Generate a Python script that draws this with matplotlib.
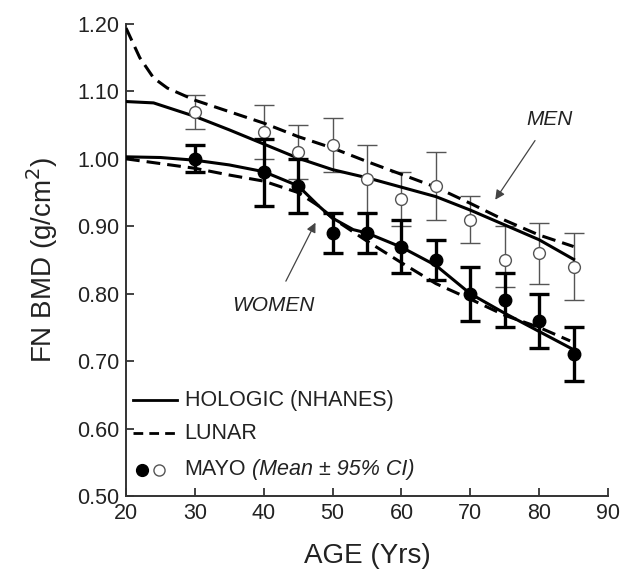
import matplotlib
matplotlib.use('Agg')
import matplotlib.pyplot as plt
import numpy as np

plt.rcParams['font.family'] = ['Liberation Sans', 'DejaVu Sans']

# Mayo data (mean and 95% CI)
ages = [30, 40, 45, 50, 55, 60, 65, 70, 75, 80, 85]
women_mean = [1.00, 0.98, 0.96, 0.89, 0.89, 0.87, 0.85, 0.80, 0.79, 0.76, 0.71]
women_lo = [0.98, 0.93, 0.92, 0.86, 0.86, 0.83, 0.82, 0.76, 0.75, 0.72, 0.67]
women_hi = [1.02, 1.03, 1.00, 0.92, 0.92, 0.91, 0.88, 0.84, 0.83, 0.80, 0.75]
men_mean = [1.07, 1.04, 1.01, 1.02, 0.97, 0.94, 0.96, 0.91, 0.85, 0.86, 0.84]
men_lo = [1.045, 1.00, 0.97, 0.98, 0.92, 0.90, 0.91, 0.875, 0.81, 0.815, 0.79]
men_hi = [1.095, 1.08, 1.05, 1.06, 1.02, 0.98, 1.01, 0.945, 0.90, 0.905, 0.89]

# reference curves
men_holo_age = [20, 24, 30, 35, 40, 45, 50, 55, 60, 65, 70, 75, 80, 85]
men_holo = [1.085, 1.083, 1.063, 1.043, 1.022, 1.001, 0.984, 0.972, 0.958, 0.944, 0.924, 0.902, 0.880, 0.851]
men_lunar_age = [20, 22, 24, 26, 30, 35, 40, 45, 50, 55, 60, 65, 70, 75, 80, 85]
men_lunar = [1.194, 1.150, 1.120, 1.105, 1.087, 1.070, 1.053, 1.033, 1.016, 0.996, 0.977, 0.958, 0.934, 0.909, 0.887, 0.870]
women_holo_age = [20, 25, 30, 35, 40, 45, 48, 50, 53, 55, 60, 65, 70, 75, 80, 85]
women_holo = [1.003, 1.002, 0.998, 0.991, 0.981, 0.960, 0.930, 0.912, 0.895, 0.890, 0.869, 0.842, 0.800, 0.771, 0.744, 0.717]
women_lunar_age = [20, 25, 30, 35, 40, 45, 48, 50, 55, 60, 65, 70, 75, 80, 84.5]
women_lunar = [1.000, 0.993, 0.986, 0.976, 0.967, 0.950, 0.930, 0.912, 0.878, 0.846, 0.815, 0.792, 0.768, 0.750, 0.730]

fig = plt.figure(figsize=(6.22, 5.77), dpi=100)
ax = fig.add_axes([0.2026, 0.1404, 0.7749, 0.818])

dash = (4.5, 2.3)
ax.plot(men_holo_age, men_holo, color='black', lw=2.2, zorder=3)
ax.plot(men_lunar_age, men_lunar, color='black', lw=2.2, dashes=dash, zorder=3)
ax.plot(women_holo_age, women_holo, color='black', lw=2.2, zorder=3)
ax.plot(women_lunar_age, women_lunar, color='black', lw=2.2, dashes=dash, zorder=3)

ages_a = np.array(ages)
m = np.array(men_mean)
ax.errorbar(ages_a, m, yerr=[m - np.array(men_lo), np.array(men_hi) - m], fmt='none',
            ecolor='#555555', elinewidth=1.0, capsize=7, capthick=1.0, zorder=2)
ax.plot(ages_a, m, 'o', ms=8.5, mfc='white', mec='#555555', mew=1.0, zorder=4)

w = np.array(women_mean)
ax.errorbar(ages_a, w, yerr=[w - np.array(women_lo), np.array(women_hi) - w], fmt='none',
            ecolor='black', elinewidth=2.4, capsize=7, capthick=2.4, zorder=5)
ax.plot(ages_a, w, 'o', ms=9, color='black', zorder=6)

# annotations
ax.annotate('MEN', xy=(73.4, 0.936), xytext=(81.5, 1.059), fontsize=15, style='italic',
            ha='center', va='center', color='#222222',
            arrowprops=dict(arrowstyle='-|>', color='#444444', lw=0.9, mutation_scale=14, shrinkA=8))
ax.annotate('WOMEN', xy=(47.7, 0.909), xytext=(41.4, 0.782), fontsize=15, style='italic',
            ha='center', va='center', color='#222222',
            arrowprops=dict(arrowstyle='-|>', color='#444444', lw=0.9, mutation_scale=14, shrinkA=10))

# legend drawn by hand
ax.plot([21.0, 27.4], [0.642, 0.642], color='black', lw=2.0, clip_on=False)
ax.text(28.5, 0.642, 'HOLOGIC (NHANES)', fontsize=15.5, va='center', color='#222222')
ax.plot([21.0, 27.4], [0.593, 0.593], color='black', lw=2.0, dashes=(3.5, 2.2), clip_on=False)
ax.text(28.5, 0.593, 'LUNAR', fontsize=15.5, va='center', color='#222222')
ax.plot([22.3], [0.539], 'o', ms=8.5, color='black')
ax.plot([24.8], [0.539], 'o', ms=8, mfc='white', mec='#555555', mew=1.0)
mayo = ax.text(28.5, 0.539, 'MAYO', fontsize=15.5, va='center', color='#222222')
ax.annotate(' (Mean ± 95% CI)', xy=(1, 0.5), xycoords=mayo, fontsize=15.5, va='center',
            style='italic', color='#222222')

ax.set_xlim(20, 90)
ax.set_ylim(0.50, 1.20)
ax.set_xticks(range(20, 91, 10))
ax.set_yticks(np.arange(0.5, 1.21, 0.1))
ax.set_yticklabels([f'{v:.2f}' for v in np.arange(0.5, 1.21, 0.1)])
ax.tick_params(direction='in', length=6, width=1.2, labelsize=15.5, colors='#222222', pad=5)
for s in ['top', 'right']:
    ax.spines[s].set_visible(False)
for s in ['left', 'bottom']:
    ax.spines[s].set_linewidth(1.4)
    ax.spines[s].set_color('#333333')

ax.set_xlabel('AGE (Yrs)', fontsize=20, color='#222222', labelpad=14)
ax.set_ylabel('FN BMD (g/cm$^2$)', fontsize=20, color='#222222', labelpad=12)

fig.savefig('out.png', dpi=100)
